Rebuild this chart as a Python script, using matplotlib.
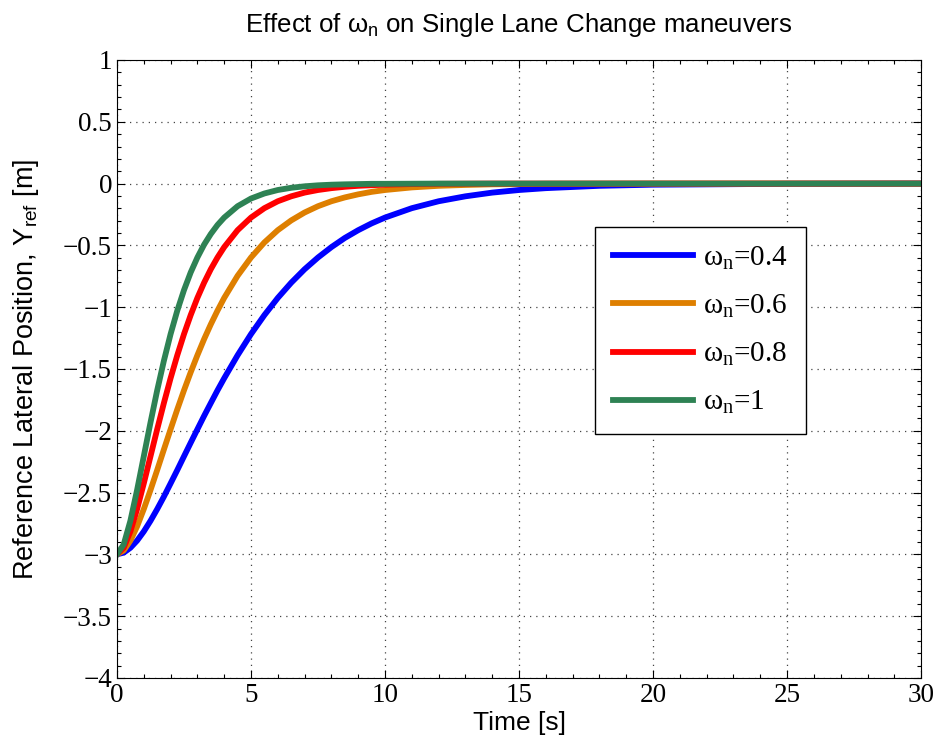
import numpy as np
import matplotlib
matplotlib.use('Agg')
import matplotlib.pyplot as plt
from matplotlib.ticker import AutoMinorLocator

## Time samples [s]
t = [0, 0.25, 0.5, 0.75, 1, 1.25, 1.5, 1.75, 2, 2.25, 2.5, 2.75, 3, 3.25, 3.5, 3.75,
     4, 4.5, 5, 5.5, 6, 6.5, 7, 7.5, 8, 8.5, 9, 9.5, 10,
     11, 12, 13, 14, 15, 16, 18, 20, 25, 30]

## Reference lateral position [m]
y_04 = [-3.000, -2.986, -2.947, -2.889, -2.815, -2.729, -2.634, -2.533, -2.426, -2.318,
        -2.207, -2.097, -1.988, -1.880, -1.776, -1.673, -1.575, -1.389, -1.218, -1.064,
        -0.925, -0.802, -0.693, -0.598, -0.514, -0.440, -0.377, -0.322, -0.275,
        -0.199, -0.143, -0.103, -0.073, -0.052, -0.037, -0.018, -0.009, -0.002, 0.000]
y_06 = [-3.000, -2.969, -2.889, -2.774, -2.634, -2.480, -2.318, -2.152, -1.988, -1.827,
        -1.673, -1.527, -1.389, -1.259, -1.139, -1.028, -0.925, -0.746, -0.598, -0.476,
        -0.377, -0.298, -0.234, -0.183, -0.143, -0.112, -0.087, -0.067, -0.052,
        -0.031, -0.018, -0.011, -0.006, -0.004, -0.002, -0.001, 0.000, 0.000, 0.000]
y_08 = [-3.000, -2.947, -2.815, -2.634, -2.426, -2.207, -1.988, -1.776, -1.575, -1.389,
        -1.218, -1.064, -0.925, -0.802, -0.693, -0.598, -0.514, -0.377, -0.275, -0.199,
        -0.143, -0.103, -0.073, -0.052, -0.037, -0.026, -0.018, -0.013, -0.009,
        -0.004, -0.002, -0.001, 0.000, 0.000, 0.000, 0.000, 0.000, 0.000, 0.000]
y_10 = [-3.000, -2.921, -2.729, -2.480, -2.207, -1.934, -1.673, -1.434, -1.218, -1.028,
        -0.862, -0.719, -0.598, -0.494, -0.408, -0.335, -0.275, -0.183, -0.121, -0.080,
        -0.052, -0.034, -0.022, -0.014, -0.009, -0.006, -0.004, -0.002, -0.002,
        -0.001, 0.000, 0.000, 0.000, 0.000, 0.000, 0.000, 0.000, 0.000, 0.000]

labels = ['0.4', '0.6', '0.8', '1']
colors = ['#0000FF', '#DE7F00', '#FF0000', '#2E8254']

plt.rcParams['mathtext.fontset'] = 'custom'
plt.rcParams['mathtext.rm'] = 'Liberation Serif'
plt.rcParams['mathtext.it'] = 'Liberation Serif'
plt.rcParams['mathtext.sf'] = 'Liberation Sans'

fig = plt.figure(figsize=(9.38, 7.47), dpi=100)
ax = fig.add_axes([0.1247, 0.0924, 0.8573, 0.8273])

for y, lab, c in zip([y_04, y_06, y_08, y_10], labels, colors):
    ax.plot(t, y, color=c, linewidth=4.2, label=r'$\mathrm{\omega_n}$=' + lab,
            solid_joinstyle='round')

ax.set_xlim(0, 30)
ax.set_ylim(-4, 1)
ax.set_xticks(np.arange(0, 31, 5))
ax.set_yticks(np.arange(-4, 1.01, 0.5))
ax.set_yticklabels(['\u22124', '\u22123.5', '\u22123', '\u22122.5', '\u22122', '\u22121.5',
                    '\u22121', '\u22120.5', '0', '0.5', '1'])
ax.xaxis.set_minor_locator(AutoMinorLocator(5))
ax.yaxis.set_minor_locator(AutoMinorLocator(5))
ax.tick_params(which='both', direction='in', top=True, right=True, width=0.8)
ax.tick_params(which='major', length=6, labelsize=19.5)
ax.tick_params(which='minor', length=3)
for lbl in ax.get_xticklabels() + ax.get_yticklabels():
    lbl.set_fontfamily('Liberation Serif')
ax.grid(True, which='major', linestyle=(0, (1, 4)), color='#444444', linewidth=0.9)
for s in ax.spines.values():
    s.set_linewidth(0.8)

ax.set_xlabel('Time [s]', fontsize=19, family='Liberation Sans', labelpad=2)
ax.set_ylabel(r'Reference Lateral Position, $\mathsf{Y_{ref}}$ [m]', fontsize=19.5,
              family='Liberation Sans', labelpad=16)
ax.set_title(r'Effect of $\mathsf{\omega_n}$ on Single Lane Change maneuvers',
             fontsize=18.6, family='Liberation Sans', pad=20)

leg = ax.legend(loc='upper left', bbox_to_anchor=(0.595, 0.730), borderaxespad=0,
                prop={'family': 'Liberation Serif', 'size': 21},
                handlelength=2.75, handletextpad=0.35, borderpad=0.6, labelspacing=0.72,
                fancybox=False, edgecolor='black', framealpha=1)
leg.get_frame().set_linewidth(1.0)

fig.savefig('out.png', dpi=100)
